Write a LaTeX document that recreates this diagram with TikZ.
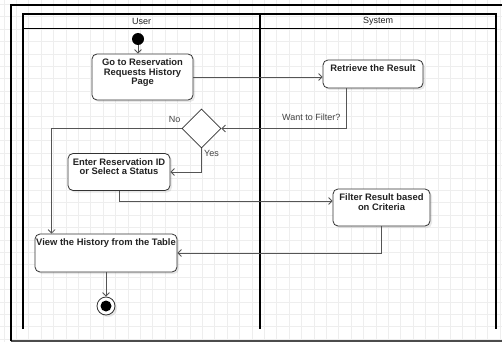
\documentclass[tikz,border=0pt]{standalone}
\usepackage{fontspec}
\setmainfont{Liberation Sans}
\usetikzlibrary{arrows.meta,shadows,shapes.geometric,positioning}

\definecolor{gridgrey}{HTML}{EEEEEE}
\definecolor{linegrey}{HTML}{555555}
\definecolor{boxline}{HTML}{333333}
\definecolor{txt}{HTML}{222222}

\tikzset{
  gridline/.style={draw=gridgrey, line width=0.7pt},
  lane/.style={draw=black, line width=1.3pt},
  actbox/.style={draw=boxline, fill=white, rounded corners=5pt, line width=0.8pt,
    drop shadow={opacity=0.18, shadow xshift=2pt, shadow yshift=-2pt}},
  acttext/.style={font=\bfseries\fontsize{9.4}{9.6}\selectfont, text=txt, align=center, inner sep=0pt},
  flow/.style={draw=linegrey, line width=0.8pt, -{Straight Barb[length=3.5pt,width=7pt]}},
  edgelabel/.style={font=\fontsize{9}{10}\selectfont, text=txt!85, inner sep=0pt},
  lanetitle/.style={font=\fontsize{9}{10}\selectfont, text=txt},
}

\begin{document}
\begin{tikzpicture}[x=1pt,y=-1pt]
  \useasboundingbox (0,0) rectangle (502,342);
  \fill[white] (0,0) rectangle (502,342);

  % background grid
  \foreach \i in {0,...,40} {
    \draw[gridline] (3.9+12.4*\i,0) -- (3.9+12.4*\i,342);
  }
  \foreach \i in {0,...,27} {
    \draw[gridline] (0,4.4+12.4*\i) -- (502,4.4+12.4*\i);
  }

  % outer frame
  \draw[draw=black!70, line width=1.2pt] (11,341) -- (503,341);
  \draw[draw=black, line width=1.4pt] (11,341) -- (11,5) -- (503,5);

  % swimlanes
  \draw[lane] (23,329) -- (23,14) -- (496,14) -- (496,329);
  \draw[lane, line width=1pt] (23,29) -- (496,29);
  \draw[lane] (260,14) -- (260,329);
  \node[lanetitle] (userlane) at (141.5,21.5) {User};
  \node[lanetitle] (systemlane) at (378,21.5) {System};

  % activities
  \node[circle, fill=black, minimum size=12pt, inner sep=0pt] (start) at (138,39) {};

  \node[actbox, minimum width=101pt, minimum height=46pt] (goto) at (142.5,77) {};
  \node[acttext, below=5pt of goto.north] (gototext) {Go to Reservation\\Requests History\\Page};

  \node[actbox, minimum width=100pt, minimum height=28pt] (retrieve) at (373,74) {};
  \node[acttext, below=5pt of retrieve.north] (retrievetext) {Retrieve the Result};

  \node[diamond, draw=boxline, fill=white, line width=0.8pt, minimum width=39pt,
        minimum height=39pt, inner sep=0pt] (decision) at (201.5,128.5) {};

  \node[actbox, minimum width=102pt, minimum height=37pt] (enter) at (119,172) {};
  \node[acttext, below=5pt of enter.north] (entertext) {Enter Reservation ID\\or Select a Status};

  \node[actbox, minimum width=97pt, minimum height=37pt] (filter) at (381.5,207.5) {};
  \node[acttext, below=5pt of filter.north] (filtertext) {Filter Result based\\on Criteria};

  \node[actbox, minimum width=142pt, minimum height=38pt] (view) at (106,253) {};
  \node[acttext, below=5pt of view.north] (viewtext) {View the History from the Table};

  \node[circle, draw=boxline, fill=white, line width=0.8pt, minimum size=18pt, inner sep=0pt,
        drop shadow={opacity=0.18, shadow xshift=2pt, shadow yshift=-2pt}] (final) at (106,306) {};
  \node[circle, fill=black, minimum size=11pt, inner sep=0pt] (finaldot) at (final) {};

  % control flow
  \draw[flow] (start.south) -- (start.south |- goto.north);
  \draw[flow] (goto.east) -- (goto.east -| retrieve.west);
  \draw[flow] ([xshift=-27pt]retrieve.south) |- (decision.east);
  \draw[flow] (decision.west) -| ([xshift=17pt]view.north west);
  \draw[flow] (decision.south) |- (enter.east);
  \draw[flow] (enter.south) |- ([yshift=6.5pt]filter.west);
  \draw[flow] (filter.south) |- (view.east);
  \draw[flow] (view.south) -- (final.north);

  % guard labels
  \node[edgelabel, anchor=base east] (wantlabel) at (340.5,120.5) {Want to Filter?};
  \node[edgelabel, anchor=base east] (nolabel) at (180.5,122.5) {No};
  \node[edgelabel, anchor=base west] (yeslabel) at (204,156.5) {Yes};
\end{tikzpicture}
\end{document}
